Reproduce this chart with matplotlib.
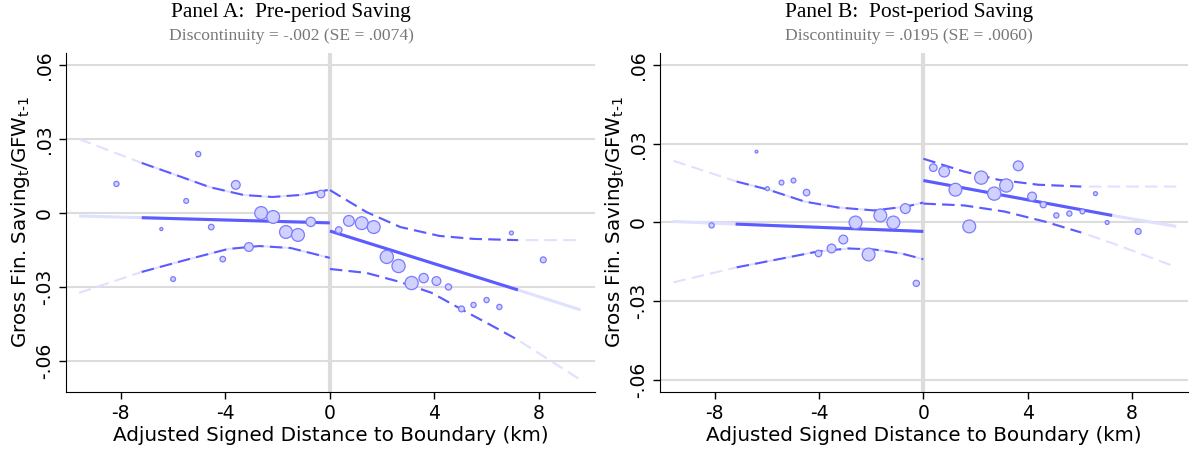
import numpy as np
import matplotlib
matplotlib.use('Agg')
import matplotlib.pyplot as plt

# ---- data ----
titles = ['Panel A:  Pre-period Saving', 'Panel B:  Post-period Saving']
subtitles = ['Discontinuity = -.002 (SE = .0074)', 'Discontinuity = .0195 (SE = .0060)']
ylims = [(-0.0726, 0.0649), (-0.0646, 0.0646)]

# Panel A
a_fit_l_x = [-9.6, -7.2, 0.0]
a_fit_l_y = [-0.0012, -0.0019, -0.0040]
a_fit_r_x = [0.0, 7.2, 9.6]
a_fit_r_y = [-0.0073, -0.0312, -0.0393]
a_hi_l_x = [-9.6, -7.2, -6.1, -4.6, -3.3, -2.2, -1.15, -0.08]
a_hi_l_y = [0.0300, 0.0203, 0.0162, 0.0105, 0.0073, 0.0065, 0.0073, 0.0093]
a_lo_l_x = [-9.6, -7.2, -5.5, -3.9, -2.7, -1.5, 0.0]
a_lo_l_y = [-0.0324, -0.0239, -0.0190, -0.0146, -0.0134, -0.0142, -0.0182]
a_hi_r_x = [0.0, 1.4, 2.7, 4.2, 5.5, 7.2, 9.6]
a_hi_r_y = [0.0093, 0.0004, -0.0057, -0.0093, -0.0105, -0.0110, -0.0110]
a_lo_r_x = [0.0, 1.4, 2.7, 3.9, 5.2, 6.5, 7.2, 9.6]
a_lo_r_y = [-0.0227, -0.0243, -0.0280, -0.0324, -0.0400, -0.0474, -0.0515, -0.0677]
a_pts_x = [-8.17, -6.45, -6.0, -5.5, -5.04, -4.54, -4.1, -3.6, -3.1, -2.63, -2.17,
           -1.68, -1.22, -0.73, -0.34, 0.34, 0.73, 1.22, 1.68, 2.18, 2.63, 3.13,
           3.59, 4.08, 4.54, 5.04, 5.5, 6.0, 6.49, 6.95, 8.17]
a_pts_y = [0.0118, -0.0065, -0.0268, 0.0049, 0.0239, -0.0057, -0.0187, 0.0114, -0.0138,
           0.0000, -0.0016, -0.0077, -0.0089, -0.0036, 0.0077, -0.0069, -0.0032, -0.0041,
           -0.0057, -0.0178, -0.0215, -0.0284, -0.0264, -0.0276, -0.0300, -0.0389,
           -0.0373, -0.0353, -0.0381, -0.0081, -0.0190]
a_pts_s = [14, 5, 12, 12, 14, 16, 16, 40, 40, 85, 85, 85, 85, 45, 30, 22, 60, 85, 85,
           90, 90, 90, 45, 40, 20, 18, 14, 14, 14, 8, 18]

# Panel B
b_fit_l_x = [-9.6, -7.2, 0.0]
b_fit_l_y = [0.0004, -0.0006, -0.0034]
b_fit_r_x = [0.0, 7.24, 9.7]
b_fit_r_y = [0.0160, 0.0027, -0.0015]
b_hi_l_x = [-9.58, -7.16, -5.94, -4.56, -3.26, -1.88, -0.65, 0.0]
b_hi_l_y = [0.0235, 0.0156, 0.0125, 0.0080, 0.0057, 0.0046, 0.0061, 0.0076]
b_lo_l_x = [-9.58, -7.16, -5.56, -4.02, -2.87, -1.88, -0.84, 0.0]
b_lo_l_y = [-0.0228, -0.0171, -0.0140, -0.0110, -0.0099, -0.0103, -0.0118, -0.0140]
b_hi_r_x = [0.0, 1.57, 2.87, 4.4, 6.05, 7.3, 9.7]
b_hi_r_y = [0.0243, 0.0194, 0.0163, 0.0144, 0.0137, 0.0137, 0.0137]
b_lo_r_x = [0.0, 1.57, 3.1, 4.64, 6.05, 7.28, 9.62]
b_lo_r_y = [0.0072, 0.0065, 0.0042, 0.0004, -0.0038, -0.0080, -0.0167]
b_pts_x = [-8.12, -6.4, -5.98, -5.44, -4.98, -4.48, -4.02, -3.52, -3.07, -2.6, -2.1,
           -1.65, -1.15, -0.69, -0.27, 0.38, 0.8, 1.23, 1.76, 2.22, 2.72, 3.18, 3.64,
           4.17, 4.6, 5.1, 5.6, 6.1, 6.6, 7.05, 8.24]
b_pts_y = [-0.0011, 0.0270, 0.0129, 0.0152, 0.0160, 0.0114, -0.0118, -0.0099, -0.0065,
           0.0000, -0.0122, 0.0027, 0.0000, 0.0053, -0.0232, 0.0209, 0.0194, 0.0125,
           -0.0015, 0.0171, 0.0110, 0.0141, 0.0216, 0.0099, 0.0068, 0.0027, 0.0034,
           0.0042, 0.0110, 0.0000, -0.0034]
b_pts_s = [14, 4, 8, 12, 12, 22, 22, 40, 40, 85, 85, 85, 85, 50, 20, 30, 60, 85, 85,
           90, 90, 90, 50, 40, 20, 14, 14, 12, 8, 8, 18]

panels = [
    dict(fit=[(a_fit_l_x, a_fit_l_y), (a_fit_r_x, a_fit_r_y)],
         ci=[(a_hi_l_x, a_hi_l_y), (a_lo_l_x, a_lo_l_y), (a_hi_r_x, a_hi_r_y), (a_lo_r_x, a_lo_r_y)],
         pts=(a_pts_x, a_pts_y, a_pts_s)),
    dict(fit=[(b_fit_l_x, b_fit_l_y), (b_fit_r_x, b_fit_r_y)],
         ci=[(b_hi_l_x, b_hi_l_y), (b_lo_l_x, b_lo_l_y), (b_hi_r_x, b_hi_r_y), (b_lo_r_x, b_lo_r_y)],
         pts=(b_pts_x, b_pts_y, b_pts_s)),
]

blue = '#5b5bff'
faded = '#e0e0ff'
grid_c = '#dcdcdc'
cut = 7.25


def draw_curve(ax, x, y, **kw):
    x = np.array(x)
    y = np.array(y)
    inner = np.abs(x) <= cut + 1e-9
    ax.plot(x, y, color=faded, zorder=2, **kw)
    ax.plot(x[inner], y[inner], color=blue, zorder=3, **kw)


fig = plt.figure(figsize=(11.92, 4.51), dpi=100)
lefts = [66 / 1192, 660 / 1192]
widths = [(595 - 66) / 1192, (1188 - 660) / 1192]
title_x = [291 / 1192, 909 / 1192]

for i, p in enumerate(panels):
    ax = fig.add_axes([lefts[i], 1 - 392 / 451, widths[i], (392 - 53) / 451])
    ax.set_xlim(-10.1, 10.15)
    ax.set_ylim(*ylims[i])
    for yv in [-0.06, -0.03, 0, 0.03, 0.06]:
        ax.axhline(yv, color=grid_c, lw=1.5, zorder=0)
    ax.axvline(0, color=grid_c, lw=3, zorder=0)

    for x, y in p['fit']:
        draw_curve(ax, x, y, lw=2.2, solid_capstyle='butt')
    for x, y in p['ci']:
        draw_curve(ax, x, y, lw=1.5, dashes=(6, 3))

    px, py, ps = p['pts']
    ax.scatter(px, py, s=ps, facecolor=(0.82, 0.82, 1.0), edgecolor='#7b7bff',
               linewidth=0.9, zorder=4)

    ax.set_xticks([-8, -4, 0, 4, 8])
    ax.set_xticklabels(['-8', '-4', '0', '4', '8'])
    ax.set_yticks([-0.06, -0.03, 0, 0.03, 0.06])
    ax.set_yticklabels(['-.06', '-.03', '0', '.03', '.06'], rotation=90, va='center')
    ax.tick_params(labelsize=13.5, length=5, width=1)
    for s in ['top', 'right']:
        ax.spines[s].set_visible(False)
    ax.set_xlabel('Adjusted Signed Distance to Boundary (km)', fontsize=14.3, labelpad=2)
    ax.set_ylabel('Gross Fin. Saving$_\\mathregular{t}$/GFW$_\\mathregular{t\\text{-}1}$',
                  fontsize=14.3, labelpad=2)

    fig.text(title_x[i], 1 - 12 / 451, titles[i], family='Liberation Serif', fontsize=15.5,
             ha='center', va='center')
    fig.text(title_x[i], 1 - 36 / 451, subtitles[i], family='Liberation Serif', fontsize=12.6,
             color='#777777', ha='center', va='center')

fig.savefig('out.png', dpi=100)
